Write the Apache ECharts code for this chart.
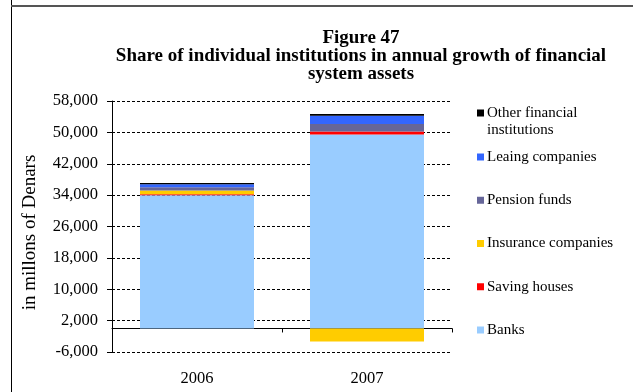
<!DOCTYPE html>
<html><head><meta charset="utf-8">
<script src="https://cdn.jsdelivr.net/npm/echarts@6/dist/echarts.min.js"></script>
<style>html,body{margin:0;padding:0;background:#fff}#c{width:633px;height:392px}</style>
</head><body><div id="c"></div>
<script>
const categories = ['2006', '2007'];
const banks = [34000, 49450];
const savingHouses = [250, 760];
const insurance = [950, -3300];
const pensionFunds = [800, 1900];
const leasing = [800, 2100];
const otherFin = [300, 500];
const yTicks = { min: -6000, max: 58000, interval: 8000 };

const font = 'Liberation Serif, Times New Roman, serif';
const chart = echarts.init(document.getElementById('c'));
const mk = (name, data, color) => ({ name, type: 'bar', stack: 's', data, barWidth: 114, itemStyle: { color }, xAxisIndex: 0 });
const legText = { fontFamily: font, fontSize: 15, lineHeight: 15, color: '#000', padding: [0, 0, 0, -2] };
chart.setOption({
  animation: false,
  textStyle: { fontFamily: font },
  title: {
    text: 'Figure 47\nShare of individual institutions in annual growth of financial\nsystem assets',
    left: 356, textAlign: 'center', top: 24,
    textStyle: { fontFamily: font, fontSize: 19, fontWeight: 'bold', color: '#000', lineHeight: 18 }
  },
  grid: { left: 112, right: 181, top: 101, bottom: 40 },
  legend: [{
    data: ['Other financial institutions'], icon: 'rect',
    orient: 'vertical', left: 472, top: 100.5, itemWidth: 7, itemHeight: 7, itemGap: 0,
    formatter: () => 'Other financial', textStyle: legText
  }, {
    data: ['Leaing companies', 'Pension funds', 'Insurance companies', 'Saving houses', 'Banks'],
    icon: 'rect',
    orient: 'vertical', left: 472, top: 144.5, itemWidth: 7, itemHeight: 7, itemGap: 28.25,
    textStyle: legText
  }],
  graphic: [
    { type: 'text', left: 487, top: 122.5, style: { text: 'institutions', font: '15px ' + font, fill: '#000' } },
    { type: 'line', shape: { x1: 11.5, y1: 0, x2: 11.5, y2: 392 }, style: { stroke: '#000', lineWidth: 1 } },
    { type: 'line', shape: { x1: 11, y1: 6, x2: 633, y2: 6 }, style: { stroke: '#555', lineWidth: 2 } }
  ],
  xAxis: [{
    type: 'category', data: categories, position: 'bottom',
    axisLine: { show: false, onZero: false }, axisTick: { show: false },
    axisLabel: { fontFamily: font, fontSize: 16.5, color: '#000', margin: 18 }
  }, {
    type: 'category', data: categories, position: 'top',
    axisLine: { show: true, onZero: true, lineStyle: { color: '#000', width: 1 } },
    axisTick: { show: true, inside: true, length: 4, lineStyle: { color: '#000' } },
    axisLabel: { show: false }
  }],
  yAxis: {
    type: 'value', min: yTicks.min, max: yTicks.max, interval: yTicks.interval,
    name: 'in millons of Denars', nameLocation: 'middle', nameGap: 72,
    nameTextStyle: { fontFamily: font, fontSize: 19, color: '#000', padding: [0, 12, 0, 0] },
    axisLine: { show: true, lineStyle: { color: '#000' } },
    axisTick: { show: true, length: 5, lineStyle: { color: '#000' } },
    axisLabel: { fontFamily: font, fontSize: 16.5, color: '#000', margin: 14,
      formatter: v => v.toLocaleString('en-US') },
    splitLine: { show: true, lineStyle: { color: '#000', type: [3, 2], width: 1 } }
  },
  series: [
    mk('Banks', banks, '#99CCFF'),
    mk('Saving houses', savingHouses, '#FF0000'),
    mk('Insurance companies', insurance, '#FFCC00'),
    mk('Pension funds', pensionFunds, '#666699'),
    mk('Leaing companies', leasing, '#3366FF'),
    mk('Other financial institutions', otherFin, '#000000')
  ]
});
</script></body></html>
